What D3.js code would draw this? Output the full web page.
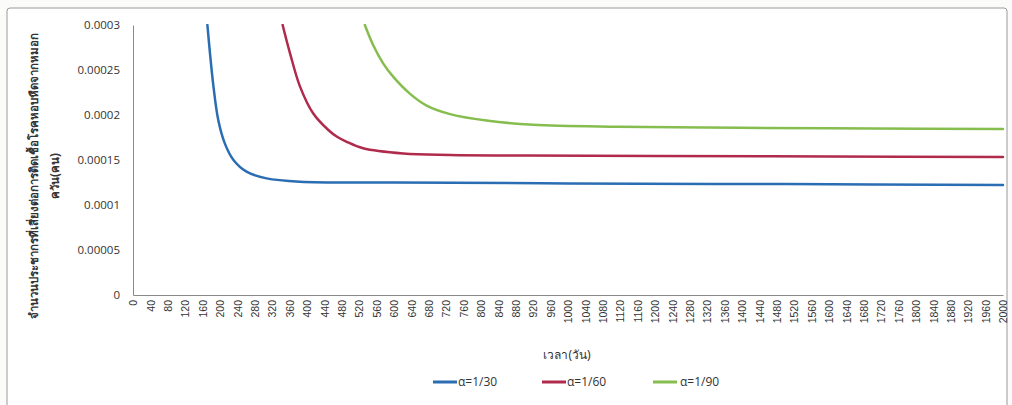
<!DOCTYPE html>
<html>
<head>
<meta charset="utf-8">
<script src="https://cdn.jsdelivr.net/npm/d3@7"></script>
<style>
  body { margin: 0; background: #fbfbfa; }
  svg { display: block; }
</style>
</head>
<body>
<svg id="chart" width="1012" height="405"></svg>
<script>
// x ticks every 40 days
var xTicks = d3.range(0, 2001, 40);
var yTicks = [0, 0.00005, 0.0001, 0.00015, 0.0002, 0.00025, 0.0003];
var yTickLabels = ['0', '0.00005', '0.0001', '0.00015', '0.0002', '0.00025', '0.0003'];

// alpha = 1/30
var days30 = [171, 177, 185, 196, 211, 231, 261, 307, 384, 600, 1000, 1500, 2000];
var vals30 = [0.0003, 0.0002685, 0.0002315, 0.0001944, 0.0001685, 0.00015, 0.000137, 0.0001296, 0.0001259, 0.000125, 0.000124, 0.0001232, 0.0001222];
// alpha = 1/60
var days60 = [344, 361, 384, 414, 449, 470, 490, 529, 621, 729, 900, 1200, 1600, 2000];
var vals60 = [0.0003, 0.0002685, 0.0002315, 0.0002019, 0.0001833, 0.0001755, 0.0001705, 0.000163, 0.0001572, 0.0001556, 0.000155, 0.0001545, 0.000154, 0.0001533];
// alpha = 1/90
var days90 = [533, 552, 575, 598, 637, 675, 729, 817, 920, 1113, 1400, 1700, 2000];
var vals90 = [0.0003, 0.0002778, 0.0002574, 0.0002426, 0.0002235, 0.0002105, 0.000201, 0.0001935, 0.0001892, 0.000187, 0.0001858, 0.000185, 0.0001844];

var seriesNames = ['α=1/30', 'α=1/60', 'α=1/90'];
var seriesColors = ['#2a6db3', '#b02a4c', '#86bd4f'];

var yTitle1 = 'จำนวนประชากรที่เสี่ยงต่อการติดเชื้อโรคหอบหืดจากหมอก';
var yTitle2 = 'ควัน(คน)';
var xTitle = 'เวลา(วัน)';

var series = [
    { name: seriesNames[0], color: seriesColors[0], days: days30, vals: vals30 },
    { name: seriesNames[1], color: seriesColors[1], days: days60, vals: vals60 },
    { name: seriesNames[2], color: seriesColors[2], days: days90, vals: vals90 }
];

var svg = d3.select('#chart');
var margin = { top: 25, left: 133, right: 1003, bottom: 295 };

// Outer chart border
svg.append('rect')
    .attr('x', 7).attr('y', 8)
    .attr('width', 1000).attr('height', 420)
    .attr('rx', 3)
    .attr('fill', '#ffffff')
    .attr('stroke', '#9a9a9a')
    .attr('stroke-width', 1);

var xScale = d3.scaleLinear().domain([0, 2000]).range([margin.left, margin.right]);
var yScale = d3.scaleLinear().domain([0, 0.0003]).range([margin.bottom, margin.top]);

// Y axis
var yAxis = d3.axisLeft(yScale)
    .tickValues(yTicks)
    .tickFormat(function(d, i) { return yTickLabels[i]; })
    .tickSize(0)
    .tickPadding(13);

svg.append('g')
    .attr('transform', 'translate(' + margin.left + ',0)')
    .call(yAxis)
    .call(function(g) {
        g.select('.domain').attr('stroke', '#8a8a8a');
        g.selectAll('text')
            .attr('font-family', '"Open Sans", sans-serif')
            .attr('font-size', 11.5)
            .attr('fill', '#333');
    });

// X axis
var xAxis = d3.axisBottom(xScale)
    .tickValues(xTicks)
    .tickFormat(d3.format('d'))
    .tickSize(0)
    .tickPadding(0);

svg.append('g')
    .attr('transform', 'translate(0,' + margin.bottom + ')')
    .call(xAxis)
    .call(function(g) {
        g.select('.domain').attr('stroke', '#8a8a8a');
        g.selectAll('text')
            .attr('font-family', '"Liberation Sans Narrow", "Liberation Sans", sans-serif')
            .attr('font-size', 10.5)
            .attr('fill', '#333')
            .attr('text-anchor', 'end')
            .attr('dy', '0.35em')
            .attr('transform', 'translate(0,5) rotate(-90)')
            .attr('y', 0);
    });

// Clip to plot area
svg.append('clipPath').attr('id', 'plot-clip')
    .append('rect')
    .attr('x', margin.left).attr('y', margin.top - 1)
    .attr('width', margin.right - margin.left + 4)
    .attr('height', margin.bottom - margin.top + 1);

var line = d3.line()
    .x(function(d) { return xScale(d[0]); })
    .y(function(d) { return yScale(d[1]); })
    .curve(d3.curveCatmullRom.alpha(0.5));

svg.append('g')
    .attr('clip-path', 'url(#plot-clip)')
    .selectAll('path')
    .data(series)
    .enter()
    .append('path')
    .attr('d', function(s) { return line(d3.zip(s.days, s.vals)); })
    .attr('fill', 'none')
    .attr('stroke', function(s) { return s.color; })
    .attr('stroke-width', 2.5)
    .attr('stroke-linecap', 'round');

// Y axis title (two lines, rotated)
var yTitle = svg.append('text')
    .attr('transform', 'translate(38,176) rotate(-90)')
    .attr('text-anchor', 'middle')
    .attr('font-family', '"Noto Sans", sans-serif')
    .attr('font-size', 11.5)
    .attr('font-weight', 'bold')
    .attr('fill', '#333');
yTitle.append('tspan').attr('x', 0).attr('dy', 0).text(yTitle1);
yTitle.append('tspan').attr('x', 0).attr('dy', 21).text(yTitle2);

// X axis title
svg.append('text')
    .attr('x', 567).attr('y', 359)
    .attr('text-anchor', 'middle')
    .attr('font-family', '"Noto Sans", sans-serif')
    .attr('font-size', 12)
    .attr('fill', '#333')
    .text(xTitle);

// Legend
var legendX = [433, 542, 653];
var legend = svg.selectAll('.legend')
    .data(series)
    .enter()
    .append('g')
    .attr('class', 'legend')
    .attr('transform', function(d, i) { return 'translate(' + legendX[i] + ',382)'; });

legend.append('line')
    .attr('x1', 0).attr('x2', 24)
    .attr('y1', 0).attr('y2', 0)
    .attr('stroke', function(d) { return d.color; })
    .attr('stroke-width', 3);

legend.append('text')
    .attr('x', function(d, i) { return i === 2 ? 27 : 25; })
    .attr('y', 0)
    .attr('dy', '0.35em')
    .attr('font-family', '"Open Sans", sans-serif')
    .attr('font-size', 12)
    .attr('fill', '#333')
    .text(function(d) { return d.name; });
</script>
</body>
</html>
